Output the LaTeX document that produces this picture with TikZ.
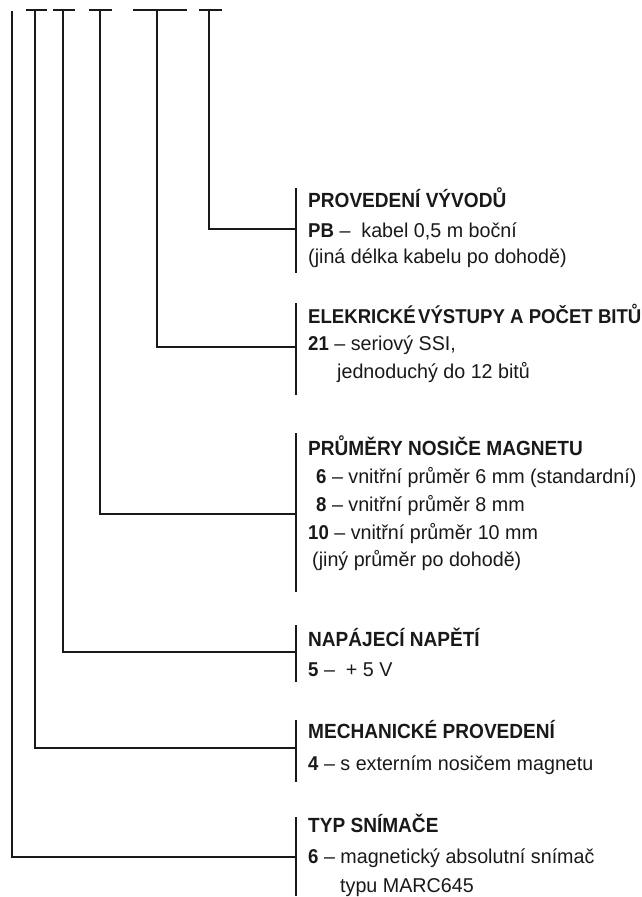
\documentclass[tikz,border=0pt]{standalone}
\usepackage{fontspec}
\setmainfont{Liberation Sans}[FakeStretch=0.985]
\newfontfamily\headfont{Liberation Sans}[FakeStretch=0.93]
\newcommand{\code}[1]{{\headfont\bfseries #1}}
\begin{document}
\begin{tikzpicture}[x=1pt,y=-1pt,
  wire/.style={line width=2.3pt,draw=black!90},
  head/.style={anchor=base west,inner sep=0pt,text=black!90,
    font=\headfont\bfseries\fontsize{20.5}{24}\selectfont},
  item/.style={anchor=base west,inner sep=0pt,text=black!90,
    font=\fontsize{20}{24}\selectfont}]
  \useasboundingbox (0,0) rectangle (641,897);

  \coordinate (s1) at (12,11);
  \coordinate (s2) at (35,10);
  \coordinate (s3) at (63,10);
  \coordinate (s4) at (100,10);
  \coordinate (s5) at (157,10);
  \coordinate (s6) at (209,10);
  \draw[wire] (26,10) -- (47,10);
  \draw[wire] (53,10) -- (75,10);
  \draw[wire] (89,10) -- (112,10);
  \draw[wire] (133,10) -- (187,10);
  \draw[wire] (199,10) -- (222,10);

  \coordinate (vyvody) at (296,229);
  \coordinate (vystupy) at (296,347);
  \coordinate (nosic) at (296,514);
  \coordinate (napeti) at (296,652);
  \coordinate (provedeni) at (296,748);
  \coordinate (typ) at (296,857);
  \draw[wire] (296,188) -- (296,273);
  \draw[wire] (296,303) -- (296,395);
  \draw[wire] (296,433) -- (296,592);
  \draw[wire] (296,625) -- (296,682);
  \draw[wire] (296,720) -- (296,782);
  \draw[wire] (296,817) -- (296,896);

  \draw[wire] (s6) |- (vyvody);
  \draw[wire] (s5) |- (vystupy);
  \draw[wire] (s4) |- (nosic);
  \draw[wire] (s3) |- (napeti);
  \draw[wire] (s2) |- (provedeni);
  \draw[wire] (s1) |- (typ);

  \node[head] (vyvodyT) at (308,207) {PROVEDENÍ VÝVODŮ};
  \node[item] (vyvodyA) at (308,237) {\code{PB} –\ \ kabel 0,5 m boční};
  \node[item] (vyvodyB) at (308,263) {(jiná délka kabelu po dohodě)};

  \node[head] (vystupyT) at (308,323) {\fontsize{20}{24}\selectfont ELEKRICKÉ\hspace{2.5pt}VÝSTUPY A POČET BITŮ};
  \node[item] (vystupyA) at (308,350) {\code{21} – seriový SSI,};
  \node[item] (vystupyB) at (337,378) {jednoduchý do 12 bitů};

  \node[head] (nosicT) at (308,455) {PRŮMĚRY NOSIČE MAGNETU};
  \node[item] (nosicA) at (316,483) {\code{6} – vnitřní průměr 6 mm (standardní)};
  \node[item] (nosicB) at (316,511) {\code{8} – vnitřní průměr 8 mm};
  \node[item] (nosicC) at (308,539) {\code{10} – vnitřní průměr 10 mm};
  \node[item] (nosicD) at (312,566) {(jiný průměr po dohodě)};

  \node[head] (napetiT) at (308,646) {NAPÁJECÍ NAPĚTÍ};
  \node[item] (napetiA) at (308,676) {\code{5} –\ \ + 5 V};

  \node[head] (provedeniT) at (308,738) {MECHANICKÉ PROVEDENÍ};
  \node[item] (provedeniA) at (308,770) {\code{4} – s externím nosičem magnetu};

  \node[head] (typT) at (308,832) {TYP SNÍMAČE};
  \node[item] (typA) at (308,863) {\code{6} – magnetický absolutní snímač};
  \node[item] (typB) at (340,892) {typu MARC645};
\end{tikzpicture}
\end{document}
